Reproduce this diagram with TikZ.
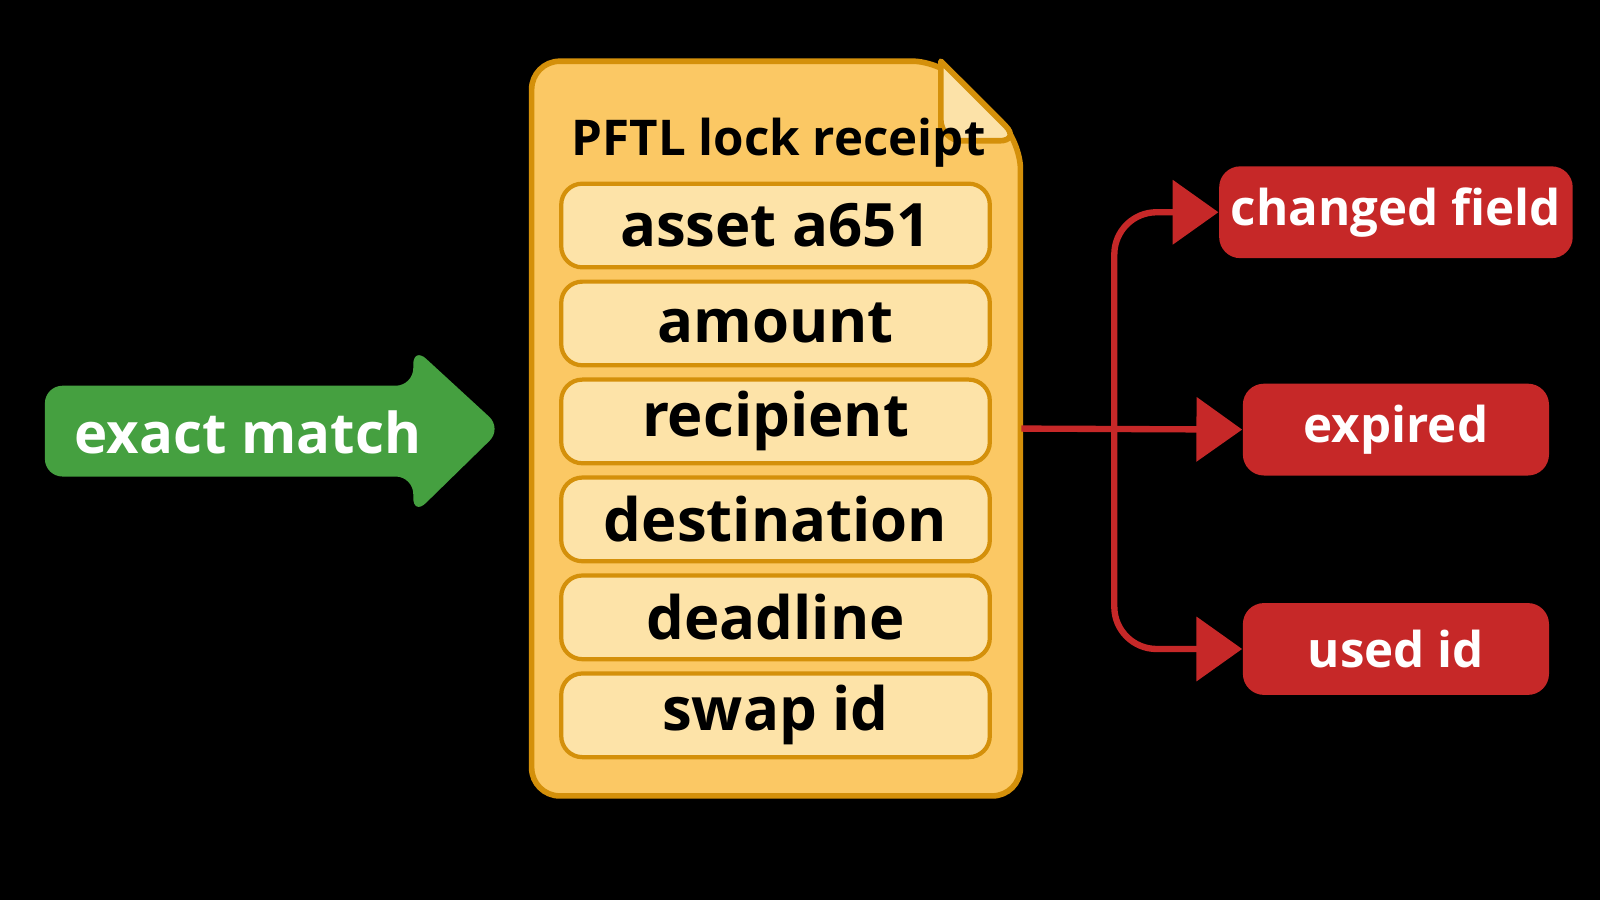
\documentclass[tikz,border=0pt]{standalone}
\usepackage{fontspec}
\setmainfont{Open Sans}
\usetikzlibrary{arrows.meta}
\definecolor{docfill}{HTML}{FBC864}
\definecolor{docline}{HTML}{D4900A}
\definecolor{fieldfill}{HTML}{FDE3A8}
\definecolor{fold}{HTML}{FCE2A8}
\definecolor{grn}{HTML}{45A040}
\definecolor{rd}{HTML}{C62828}
\begin{document}
\begin{tikzpicture}[x=0.0102cm,y=-0.0102cm,
  field/.style={draw=docline,line width=1.2pt,fill=fieldfill,rounded corners=6pt,minimum width=420*0.0102cm,minimum height=82*0.0102cm,font=\fontsize{17}{20}\selectfont\bfseries,text=black},
  bad/.style={fill=rd,rounded corners=6pt,minimum width=300*0.0102cm,minimum height=90*0.0102cm,font=\fontsize{14}{17}\selectfont\bfseries,text=white},
  conn/.style={draw=rd,line width=1.8pt,rounded corners=12pt},
  arr/.style={conn,-{Triangle[length=13pt,width=18pt]}}]
\fill[black] (0,0) rectangle (1568,882);
% document
\draw[docline,line width=1.6pt,fill=docfill,rounded corners=8pt] (521,60) -- (922,60) -- (1000,138) -- (1000,780) -- (521,780) -- cycle;
\draw[docline,line width=1.6pt,fill=fold,line join=round] (922,60) -- (922,128) [rounded corners=6pt]-- (922,138) -- (1000,138) [sharp corners]-- cycle;
\node[anchor=base west,font=\fontsize{14}{17}\selectfont\bfseries] (title) at (548,152) {PFTL lock receipt};
\node[field] (f1) at (760,221) {asset a651};
\node[field] (f2) at (760,317) {amount};
\node[field] (f3) at (760,413) {recipient};
\node[field] (f4) at (760,509) {destination};
\node[field] (f5) at (760,605) {deadline};
\node[field] (f6) at (760,701) {swap id};
\coordinate (docR) at (1001,420);
% green arrow
\fill[grn,rounded corners=5pt] (44,378) -- (405,378) -- (405,340) -- (492,420) -- (405,505) -- (405,467) -- (44,467) -- cycle;
\node[font=\fontsize{16}{19}\selectfont\bfseries,text=white] (match) at (243,424) {exact match};
% red boxes
\node[bad] (b1) at (1368,208) {changed field};
\node[bad] (b2) at (1368,421) {expired};
\node[bad] (b3) at (1368,636) {used id};
\coordinate (split) at (1092,420);
\draw[arr] (docR) -- (b2.west);
\draw[arr] (split) |- (b1.west);
\draw[arr] (split) |- (b3.west);
\end{tikzpicture}
\end{document}
